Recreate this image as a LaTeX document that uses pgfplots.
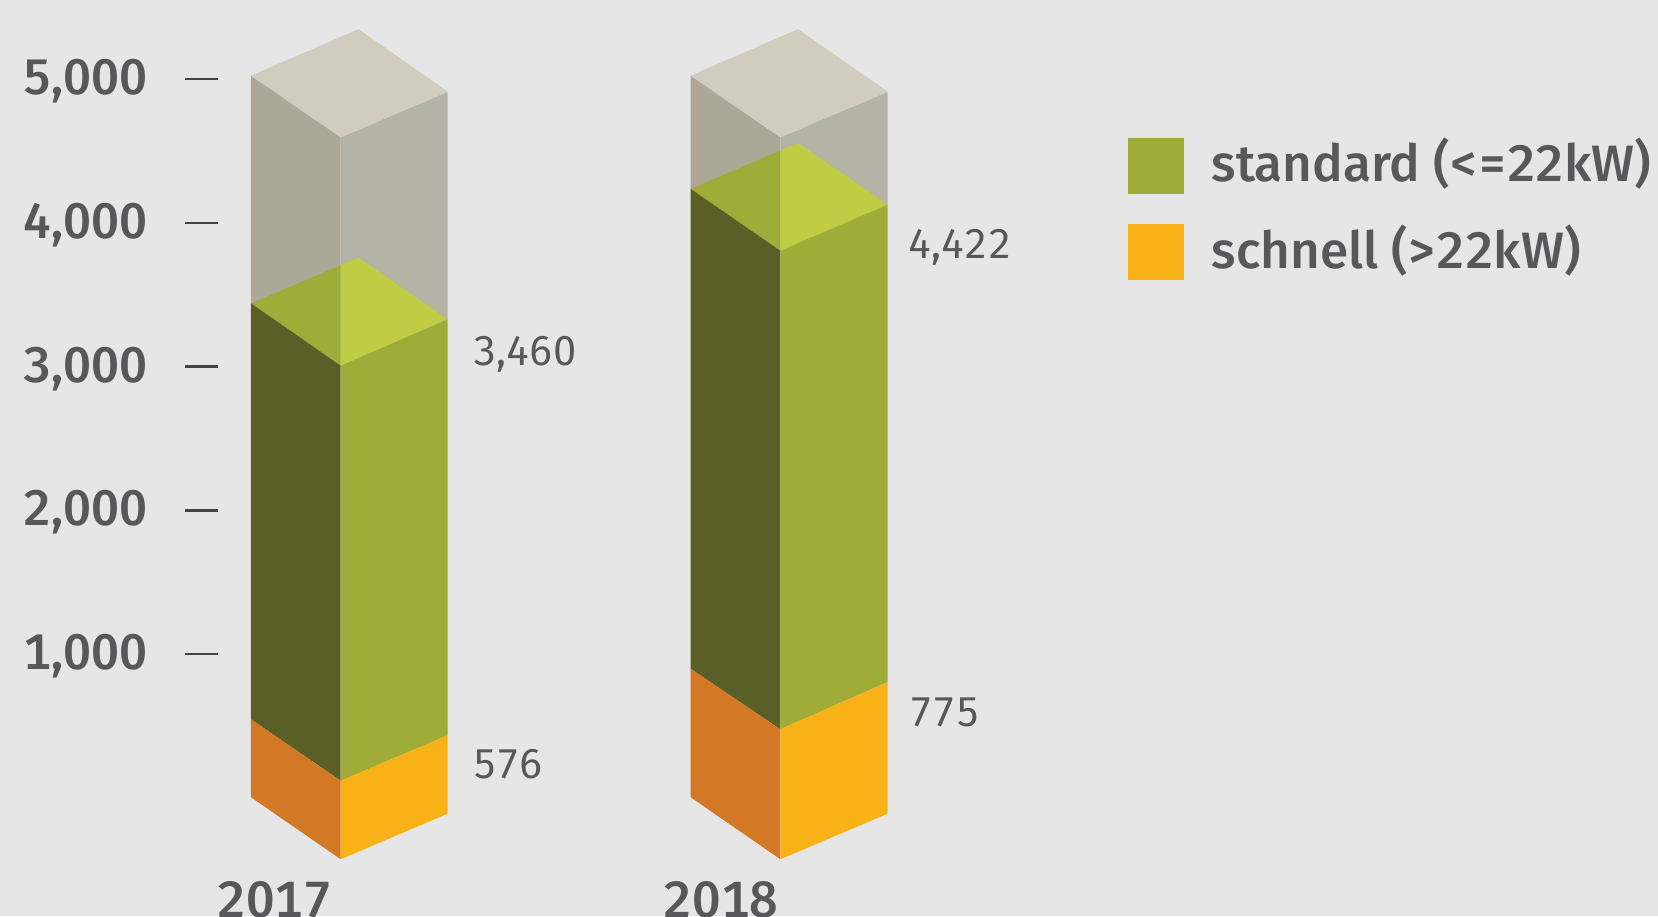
\documentclass[border=0pt]{standalone}
\usepackage{pgfplots}
\pgfplotsset{compat=1.18}
\usepackage{fontspec}
\setmainfont[Numbers=Monospaced]{Fira Sans}
\newfontfamily\medfont[Numbers=Monospaced]{Fira Sans Medium}
\definecolor{bg}{HTML}{E6E6E6}
\definecolor{txt}{HTML}{58585A}
\definecolor{tickc}{HTML}{444444}
\definecolor{ghosttop}{HTML}{D2CCBF}
\definecolor{ghostleft}{HTML}{ADA797}
\definecolor{ghostright}{HTML}{B3B3A6}
\definecolor{greenr}{HTML}{9FAC37}
\definecolor{greenl}{HTML}{5A5F27}
\definecolor{greent}{HTML}{C0CC44}
\definecolor{oranger}{HTML}{F8B218}
\definecolor{orangel}{HTML}{D37925}
% x is in pixels of the picture, y in chart units; 1 px = 0.5pt
\begin{document}
\begin{tikzpicture}
\useasboundingbox (-109pt,0pt) rectangle (720pt,458pt);
\clip (-109pt,0pt) rectangle (720pt,458pt);
\fill[bg] (-109pt,0pt) rectangle (720pt,458pt);
\begin{axis}[
  scale only axis, width=720pt, height=458pt,
  xmin=218, xmax=1658, ymin=-820.9, ymax=5551.3,
  clip=false,
  axis x line*=bottom, axis y line*=left,
  axis line style={draw=none},
  xtick={275,721}, xticklabels={2017,2018},
  ytick={1000,2000,3000,4000,5000},
  tick align=outside, major tick length=16.5pt,
  x tick style={draw=none},
  y tick style={draw=tickc,line width=1.25pt},
  /pgf/number format/.cd,1000 sep={,},assume math mode=true,
  /pgfplots/.cd,
  yticklabel style={font=\medfont\fontsize{25}{28}\selectfont,text=txt,anchor=east,xshift=-15.3pt,yshift=-1pt},
  xticklabel style={font=\medfont\fontsize{25.5}{28}\selectfont,text=txt,anchor=base,yshift=16pt},
  legend style={at={(axis cs:1128,4593)},anchor=north west,draw=none,fill=none,inner sep=0pt,outer sep=0pt,
    row sep=15pt,nodes={inner sep=0pt,text=txt,font=\medfont\fontsize{25.6}{30}\selectfont}},
  legend cell align=left,
  polygon/.style={draw=none,fill=#1,no marks,forget plot},
  legend image code/.code={\fill[#1] (0pt,-13.75pt) rectangle (27.5pt,13.75pt);},
]
% 2017
\addplot[polygon=ghostleft] coordinates {(251,5025) (340.7,4596) (340.7,3007) (251,3441)} --cycle;
\addplot[polygon=ghostright] coordinates {(340.7,4596) (447.7,4913) (447.7,3330) (340.7,3007)} --cycle;
\addplot[polygon=ghosttop] coordinates {(251,5025) (358.6,5348) (447.7,4913) (340.7,4596)} --cycle;
\addplot[polygon=greenr] coordinates {(251,3441) (340.7,3706) (340.7,3007)} --cycle;
\addplot[polygon=greent] coordinates {(340.7,3706) (358.6,3759) (447.7,3330) (340.7,3007)} --cycle;
\addplot[polygon=greenl] coordinates {(251,3441) (340.7,3007) (340.7,120) (251,547)} --cycle;
\addplot[polygon=greenr] coordinates {(340.7,3007) (447.7,3330) (447.7,436) (340.7,120)} --cycle;
\addplot[polygon=orangel] coordinates {(251,547) (340.7,120) (340.7,-426) (251,5)} --cycle;
\addplot[polygon=oranger] coordinates {(340.7,120) (447.7,436) (447.7,-109) (340.7,-426)} --cycle;
% 2018
\addplot[polygon=ghostleft] coordinates {(690.7,5025) (780.3,4596) (780.3,3807) (690.7,4237)} --cycle;
\addplot[polygon=ghostright] coordinates {(780.3,4596) (887.7,4913) (887.7,4127) (780.3,3807)} --cycle;
\addplot[polygon=ghosttop] coordinates {(690.7,5025) (798,5348) (887.7,4913) (780.3,4596)} --cycle;
\addplot[polygon=greenr] coordinates {(690.7,4237) (780.3,4504) (780.3,3807)} --cycle;
\addplot[polygon=greent] coordinates {(780.3,4504) (798,4557) (887.7,4127) (780.3,3807)} --cycle;
\addplot[polygon=greenl] coordinates {(690.7,4237) (780.3,3807) (780.3,478) (690.7,899)} --cycle;
\addplot[polygon=greenr] coordinates {(780.3,3807) (887.7,4127) (887.7,807) (780.3,478)} --cycle;
\addplot[polygon=orangel] coordinates {(690.7,899) (780.3,478) (780.3,-426) (690.7,5)} --cycle;
\addplot[polygon=oranger] coordinates {(780.3,478) (887.7,807) (887.7,-109) (780.3,-426)} --cycle;
% legend
\addlegendimage{greenr}
\addlegendentry{\hspace*{14pt}\raisebox{5pt}{standard (<=22kW)}}
\addlegendimage{oranger}
\addlegendentry{\hspace*{14pt}\raisebox{4pt}{schnell (>22kW)}}
% value labels
\begin{scope}[every node/.style={anchor=base west,inner sep=0pt,text=txt,font=\fontsize{20.8}{24}\selectfont}]
\node at (axis cs:473,3012) {3,460};
\node at (axis cs:473,135) {576};
\node at (axis cs:908,3755) {4,422};
\node at (axis cs:909,500) {775};
\end{scope}
\end{axis}
\end{tikzpicture}
\end{document}
